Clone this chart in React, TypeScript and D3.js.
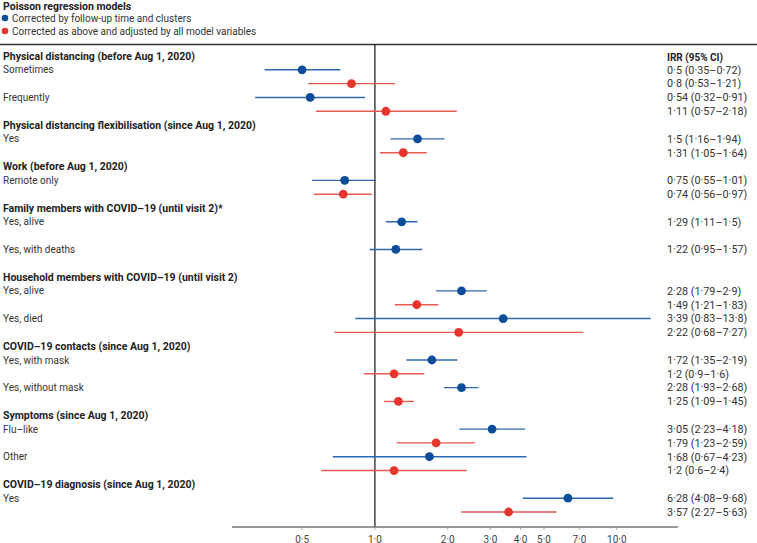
import * as d3 from 'd3'

const groupTitles = [
  'Physical distancing (before Aug 1, 2020)',
  'Physical distancing flexibilisation (since Aug 1, 2020)',
  'Work (before Aug 1, 2020)',
  'Family members with COVID–19 (until visit 2)*',
  'Household members with COVID–19 (until visit 2)',
  'COVID–19 contacts (since Aug 1, 2020)',
  'Symptoms (since Aug 1, 2020)',
  'COVID–19 diagnosis (since Aug 1, 2020)',
]

const rowLabels = [
  'Sometimes',
  'Frequently',
  'Yes',
  'Remote only',
  'Yes, alive',
  'Yes, with deaths',
  'Yes, alive',
  'Yes, died',
  'Yes, with mask',
  'Yes, without mask',
  'Flu–like',
  'Other',
  'Yes',
]

const rowGroup = [0, 0, 1, 2, 3, 3, 4, 4, 5, 5, 6, 6, 7]

// [IRR, lower, upper]
const followUpIRR: [number, number, number][] = [
  [0.5, 0.35, 0.72],
  [0.54, 0.32, 0.91],
  [1.5, 1.16, 1.94],
  [0.75, 0.55, 1.01],
  [1.29, 1.11, 1.5],
  [1.22, 0.95, 1.57],
  [2.28, 1.79, 2.9],
  [3.39, 0.83, 13.8],
  [1.72, 1.35, 2.19],
  [2.28, 1.93, 2.68],
  [3.05, 2.23, 4.18],
  [1.68, 0.67, 4.23],
  [6.28, 4.08, 9.68],
]

const adjustedIRR: ([number, number, number] | null)[] = [
  [0.8, 0.53, 1.21],
  [1.11, 0.57, 2.18],
  [1.31, 1.05, 1.64],
  [0.74, 0.56, 0.97],
  null,
  null,
  [1.49, 1.21, 1.83],
  [2.22, 0.68, 7.27],
  [1.2, 0.9, 1.6],
  [1.25, 1.09, 1.45],
  [1.79, 1.23, 2.59],
  [1.2, 0.6, 2.4],
  [3.57, 2.27, 5.63],
]

const xTickValues = [0.5, 1, 2, 3, 4, 5, 7, 10]

const legendItems = ['Corrected by follow-up time and clusters', 'Corrected as above and adjusted by all model variables']

const BLUE_DOT = '#0b4c9b'
const BLUE_LINE = '#2d68b2'
const RED_DOT = '#e5352c'
const RED_LINE = '#e85a52'
const FONT = 'Roboto, "Noto Sans", sans-serif'

const fmt = (v: number) => String(v).replace('.', '·')
const fmtCI = (e: [number, number, number]) => `${fmt(e[0])} (${fmt(e[1])}–${fmt(e[2])})`

export default function App() {
  const width = 757
  const height = 543
  const axisY = 527
  const topY = 44.5

  const x = d3.scaleLog().domain([0.2566, 17.9]).range([232, 678])

  // layout slots: a header takes one slot, each row takes two (follow-up + adjusted)
  type Slot = { kind: 'header'; title: string } | { kind: 'row'; index: number }
  const slots: Slot[] = []
  groupTitles.forEach((title, g) => {
    slots.push({ kind: 'header', title })
    rowLabels.forEach((_, i) => {
      if (rowGroup[i] === g) {
        slots.push({ kind: 'row', index: i })
        slots.push({ kind: 'row', index: -1 })
      }
    })
  })
  const y = d3.scaleLinear().domain([0, slots.length - 1]).range([56, 512])

  return (
    <svg
      width={width}
      height={height}
      viewBox={`0 0 ${width} ${height}`}
      style={{ position: 'absolute', left: 0, top: 0, background: '#fff' }}
      fontFamily={FONT}
    >
      {/* legend */}
      <text x={3} y={6} dy="0.35em" fontSize="10.5" fontWeight="700" fill="#222">
        Poisson regression models
      </text>
      {legendItems.map((label, i) => (
        <g key={label} transform={`translate(0,${18 + i * 13})`}>
          <circle cx={5} cy={0} r={3.3} fill={i === 0 ? BLUE_DOT : RED_DOT} />
          <text x={12} y={0} dy="0.35em" fontSize="10" fill="#333">
            {label}
          </text>
        </g>
      ))}

      <line x1={0} x2={width} y1={topY} y2={topY} stroke="#333" strokeWidth="1.4" />

      <text x={667} y={57} dy="0.35em" fontSize="10" fontWeight="700" fill="#222">
        IRR (95% CI)
      </text>

      {/* reference line */}
      <line x1={x(1)} x2={x(1)} y1={topY} y2={axisY} stroke="#111" strokeWidth="1.2" />

      {slots.map((slot, s) => {
        const sy = y(s)
        if (slot.kind === 'header') {
          return (
            <text key={`h${s}`} x={3} y={sy} dy="0.35em" fontSize="10.5" fontWeight="700" fill="#222">
              {slot.title}
            </text>
          )
        }
        if (slot.index < 0) return null
        const i = slot.index
        const blue = followUpIRR[i]
        const red = adjustedIRR[i]
        const ry = y(s + 1)
        return (
          <g key={`r${s}`}>
            <text x={3} y={sy} dy="0.35em" fontSize="10" fill="#333">
              {rowLabels[i]}
            </text>
            <line x1={x(blue[1])} x2={x(blue[2])} y1={sy} y2={sy} stroke={BLUE_LINE} strokeWidth="1.4" />
            <circle cx={x(blue[0])} cy={sy} r={4.4} fill={BLUE_DOT} />
            <text x={667} y={sy} dy="0.35em" fontSize="10.8" fill="#333">
              {fmtCI(blue)}
            </text>
            {red && (
              <g>
                <line x1={x(red[1])} x2={x(red[2])} y1={ry} y2={ry} stroke={RED_LINE} strokeWidth="1.4" />
                <circle cx={x(red[0])} cy={ry} r={4.4} fill={RED_DOT} />
                <text x={667} y={ry} dy="0.35em" fontSize="10.8" fill="#333">
                  {fmtCI(red)}
                </text>
              </g>
            )}
          </g>
        )
      })}

      {/* x axis */}
      <line x1={x.range()[0]} x2={x.range()[1]} y1={axisY} y2={axisY} stroke="#777" strokeWidth="1.6" />
      {xTickValues.map((t) => (
        <g key={t} transform={`translate(${x(t)},${axisY})`}>
          <line y1={0} y2={3} stroke="#999" strokeWidth="0.8" />
          <text y={12} dy="0.35em" textAnchor="middle" fontSize="10" fill="#444">
            {t.toFixed(1).replace('.', '·')}
          </text>
        </g>
      ))}
    </svg>
  )
}
